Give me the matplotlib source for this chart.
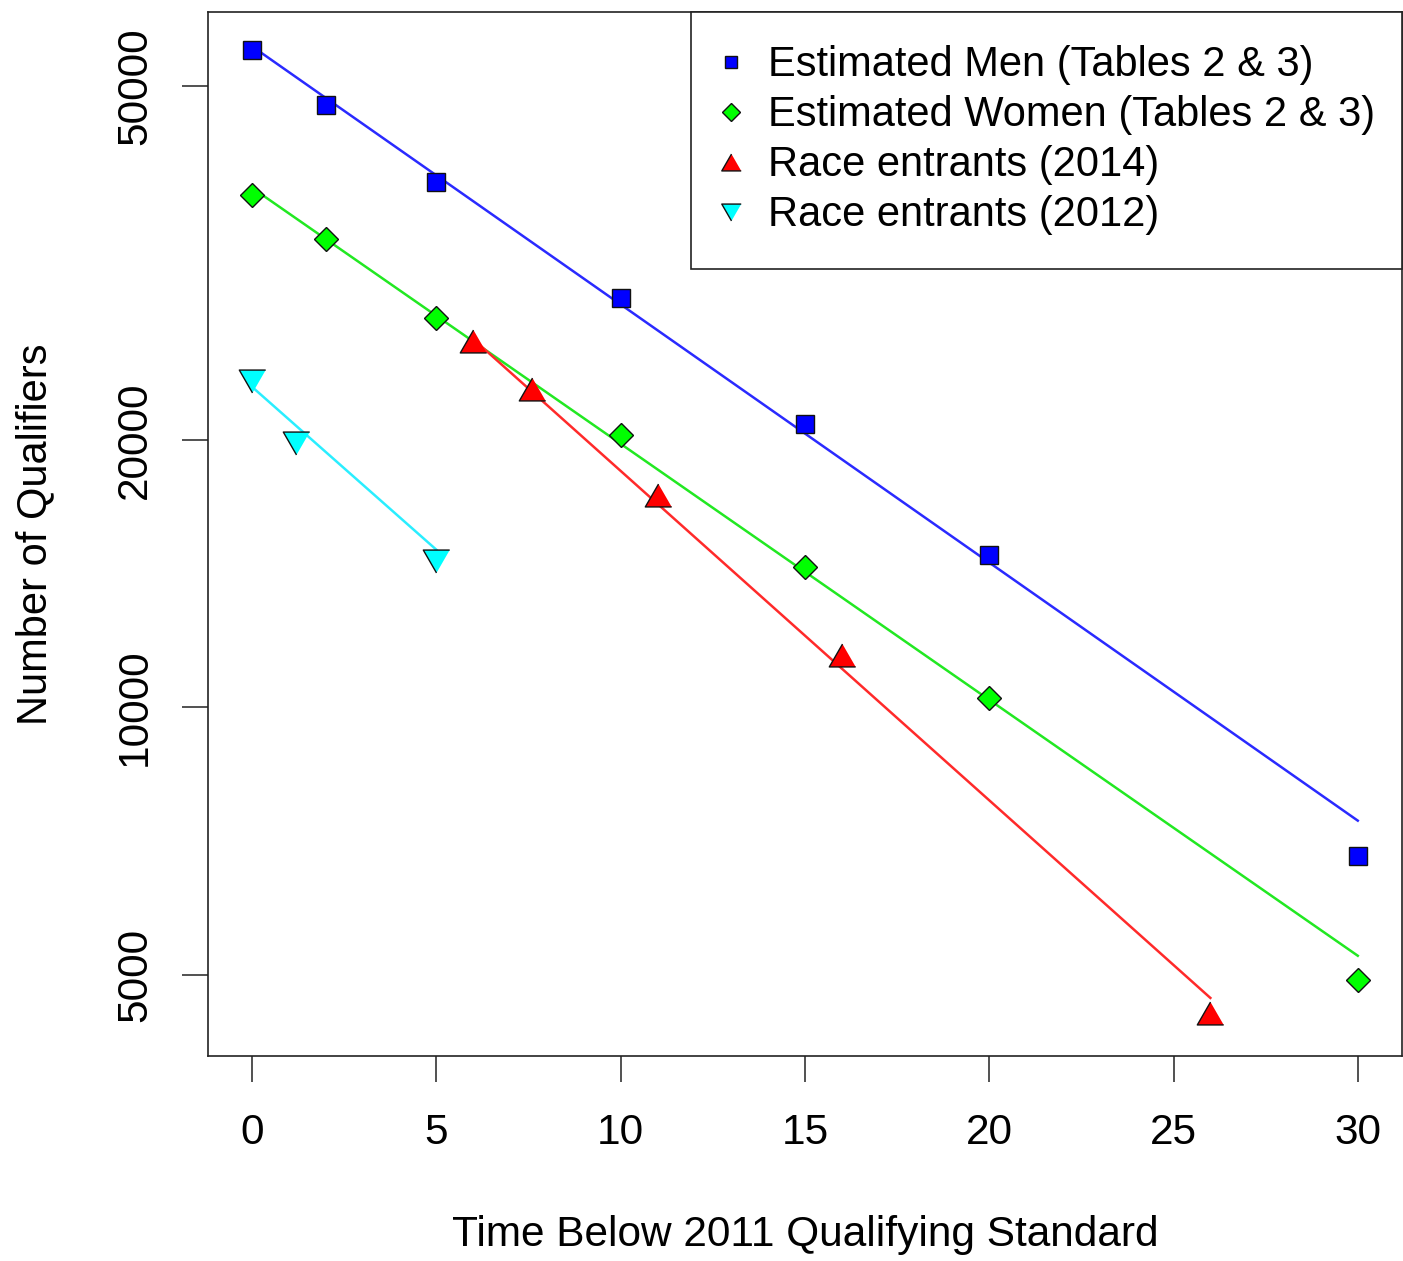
import numpy as np
import matplotlib
matplotlib.use("Agg")
import matplotlib.pyplot as plt
from matplotlib.lines import Line2D

plt.rcParams['font.family'] = ['Liberation Sans', 'DejaVu Sans']

# minutes below the 2011 standard -> number of qualifiers
men_x = [0, 2, 5, 10, 15, 20, 30]
men_y = [54830, 47660, 38990, 28840, 20830, 14840, 6800]

women_x = [0, 2, 5, 10, 15, 20, 30]
women_y = [37710, 33640, 27420, 20250, 14370, 10260, 4936]

r2014_x = [6, 7.6, 11, 16, 26]
r2014_y = [25840, 22840, 17340, 11440, 4533]

r2012_x = [0, 1.2, 5]
r2012_y = [23290, 19860, 14610]

# fitted exponential lines (end points)
men_fit_x, men_fit_y = [0, 30], [55400, 7458]
women_fit_x, women_fit_y = [0, 30], [38400, 5256]
r2014_fit_x, r2014_fit_y = [6, 26], [25950, 4712]
r2012_fit_x, r2012_fit_y = [0, 5], [22930, 15040]

x_ticks = [0, 5, 10, 15, 20, 25, 30]
y_ticks = [5000, 10000, 20000, 50000]

labels = ["Estimated Men (Tables 2 & 3)", "Estimated Women (Tables 2 & 3)",
          "Race entrants (2014)", "Race entrants (2012)"]

# equilateral triangles like R's pch 24 / 25
tri_up = [(0, 0.5), (-0.577, -0.5), (0.577, -0.5)]
tri_dn = [(0, -0.5), (-0.577, 0.5), (0.577, 0.5)]

fig = plt.figure(figsize=(14.03, 12.61), dpi=100)
ax = fig.add_axes([208/1403, 1 - 1056/1261, 1194/1403, 1044/1261])
ax.set_yscale('log')

lw = 1.8
ax.plot(men_fit_x, men_fit_y, color='#2a2aff', lw=lw, zorder=2)
ax.plot(women_fit_x, women_fit_y, color='#22e822', lw=lw, zorder=2)
ax.plot(r2014_fit_x, r2014_fit_y, color='#ff2a2a', lw=lw, zorder=2)
ax.plot(r2012_fit_x, r2012_fit_y, color='#2aeeff', lw=lw, zorder=2)

mk = dict(linestyle='none', markeredgecolor='#111111', markeredgewidth=1.0, zorder=3)
ax.plot(men_x, men_y, marker='s', ms=12.5, markerfacecolor='#0000ff', **mk)
ax.plot(women_x, women_y, marker='D', ms=12.5, markerfacecolor='#00ff00', **mk)
ax.plot(r2014_x, r2014_y, marker=tri_up, ms=19, markerfacecolor='#ff0000', **mk)
ax.plot(r2012_x, r2012_y, marker=tri_dn, ms=19, markerfacecolor='#00ffff', **mk)

ax.set_xlim(-1.2, 31.2)
ax.set_ylim(4054, 60570)
ax.set_xticks(x_ticks)
ax.set_yticks(y_ticks, [str(v) for v in y_ticks])
ax.minorticks_off()
ax.tick_params(axis='both', length=19, width=1.1, color='#222222',
               labelsize=30.5)
ax.tick_params(axis='x', pad=22)
ax.tick_params(axis='y', pad=19, labelrotation=90)
for lbl in ax.get_yticklabels():
    lbl.set_va('center')
for s in ax.spines.values():
    s.set_linewidth(1.2)
    s.set_color('#222222')

fig.text(805/1403, 1 - 1246/1261, "Time Below 2011 Qualifying Standard",
         ha='center', va='baseline', fontsize=30.5)
fig.text(35/1403, 1 - 534/1261, "Number of Qualifiers", rotation=90,
         ha='center', va='center', fontsize=30)

handles = [
    Line2D([], [], marker='s', ms=9.3, markerfacecolor='#0000ff', **mk),
    Line2D([], [], marker='D', ms=9.5, markerfacecolor='#00ff00', **mk),
    Line2D([], [], marker=tri_up, ms=14, markerfacecolor='#ff0000', **mk),
    Line2D([], [], marker=tri_dn, ms=14, markerfacecolor='#00ffff', **mk),
]
leg = ax.legend(handles, labels, loc='upper left',
                bbox_to_anchor=((691 - 208)/1194, 0, (1402 - 691)/1194, 1),
                mode='expand', borderaxespad=0, fancybox=False,
                edgecolor='#222222', framealpha=1, fontsize=30,
                borderpad=0.8, labelspacing=0.24, handlelength=0.34,
                handletextpad=0.72)
leg.get_frame().set_linewidth(1.2)

fig.savefig('out.png', dpi=100)
